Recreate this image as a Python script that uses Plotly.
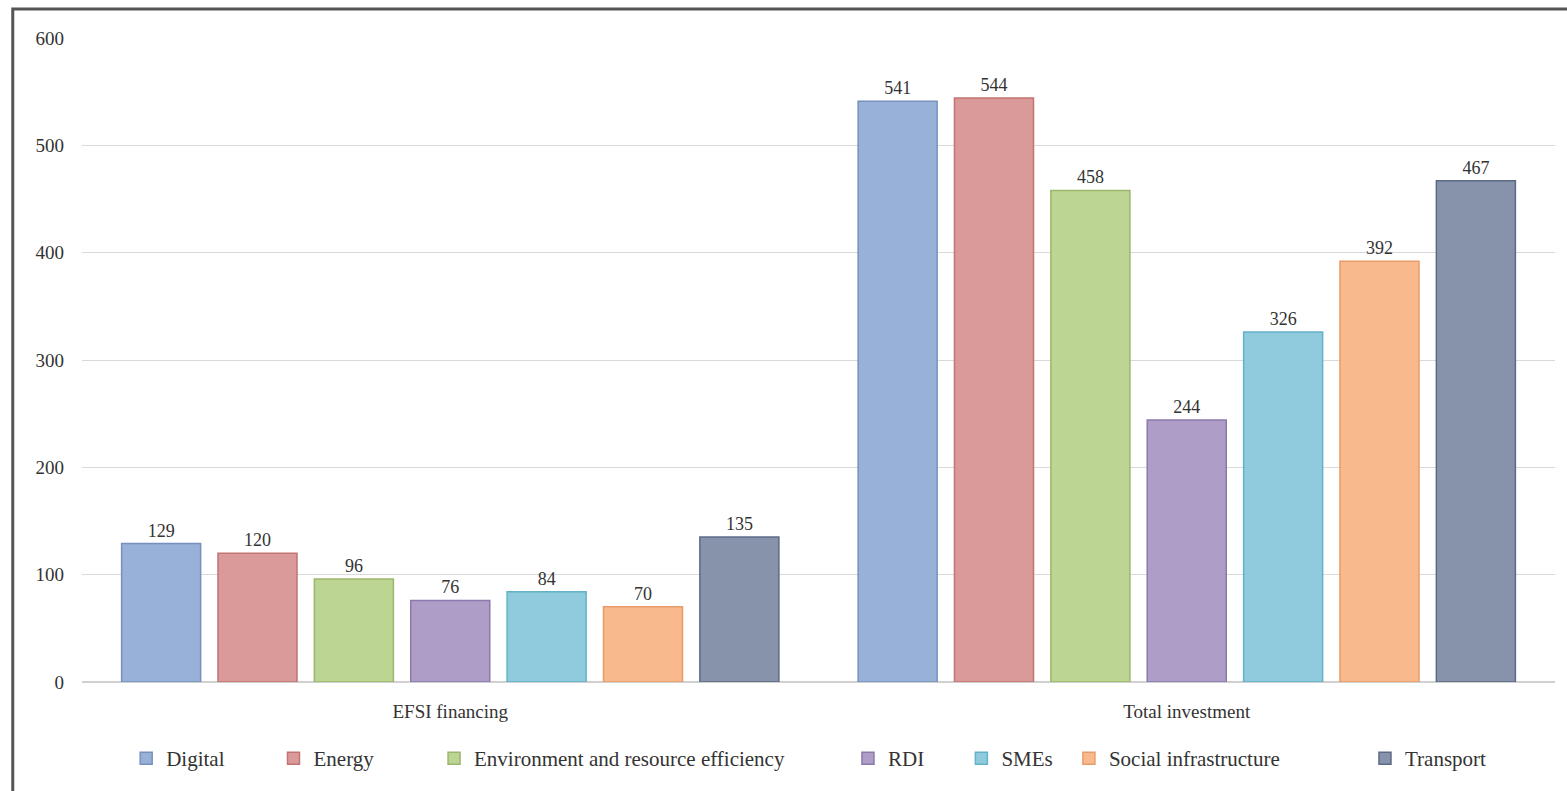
import plotly.graph_objects as go

categories = ["EFSI financing", "Total investment"]
series_names = ["Digital", "Energy", "Environment and resource efficiency", "RDI",
                "SMEs", "Social infrastructure", "Transport"]
efsi_financing = [129, 120, 96, 76, 84, 70, 135]
total_investment = [541, 544, 458, 244, 326, 392, 467]
y_ticks = [0, 100, 200, 300, 400, 500, 600]

fill_colors = ["#98b1d8", "#da9a99", "#bdd592", "#ad9dc7", "#8fcbdc", "#f8b98c", "#8793ab"]
line_colors = ["#7890bd", "#c27472", "#9db66e", "#8b7aab", "#63b2c9", "#e99c6a", "#5d6a86"]
# legend entry left positions (paper fraction of plot width)
legend_x = [0.030, 0.130, 0.239, 0.520, 0.597, 0.670, 0.871]

SERIF = "Liberation Serif"

fig = go.Figure()
layout_legends = {}
for i, name in enumerate(series_names):
    vals = [efsi_financing[i], total_investment[i]]
    lg = "legend" if i == 0 else f"legend{i+1}"
    fig.add_trace(go.Bar(
        name=name, x=categories, y=vals,
        text=[str(v) for v in vals], textposition="outside",
        textfont=dict(family=SERIF, size=18, color="#333333"),
        marker=dict(color=fill_colors[i], line=dict(color=line_colors[i], width=1.5)),
        cliponaxis=False, legend=lg,
    ))
    layout_legends[lg] = dict(
        orientation="h", x=legend_x[i], xanchor="left", y=-0.119, yanchor="middle",
        font=dict(family=SERIF, size=21, color="#333333"),
        itemwidth=30, bgcolor="rgba(0,0,0,0)", borderwidth=0,
    )

fig.update_layout(
    width=1567, height=791,
    margin=dict(l=82, r=12, t=38, b=106),
    paper_bgcolor="white", plot_bgcolor="white",
    barmode="group", bargap=0.084, bargroupgap=0.18,
    font=dict(family=SERIF, size=18, color="#333333"),
    showlegend=True,
    xaxis=dict(showgrid=False, showline=False, ticks="", ticklabelstandoff=16,
               tickfont=dict(family=SERIF, size=19, color="#333333")),
    yaxis=dict(range=[0, 600], tickvals=y_ticks, showgrid=True, gridcolor="#d9d9d9",
               gridwidth=1, zeroline=True, zerolinecolor="#d0d0d0", showline=False,
               ticks="", ticklabelstandoff=17,
               tickfont=dict(family=SERIF, size=19, color="#333333")),
    shapes=[dict(type="rect", xref="paper", yref="paper", x0=-0.047, x1=1.03,
                 y0=-0.2, y1=1.045, line=dict(color="#555555", width=3),
                 fillcolor="rgba(0,0,0,0)", layer="below")],
    **layout_legends,
)

fig.write_html("out.html")
